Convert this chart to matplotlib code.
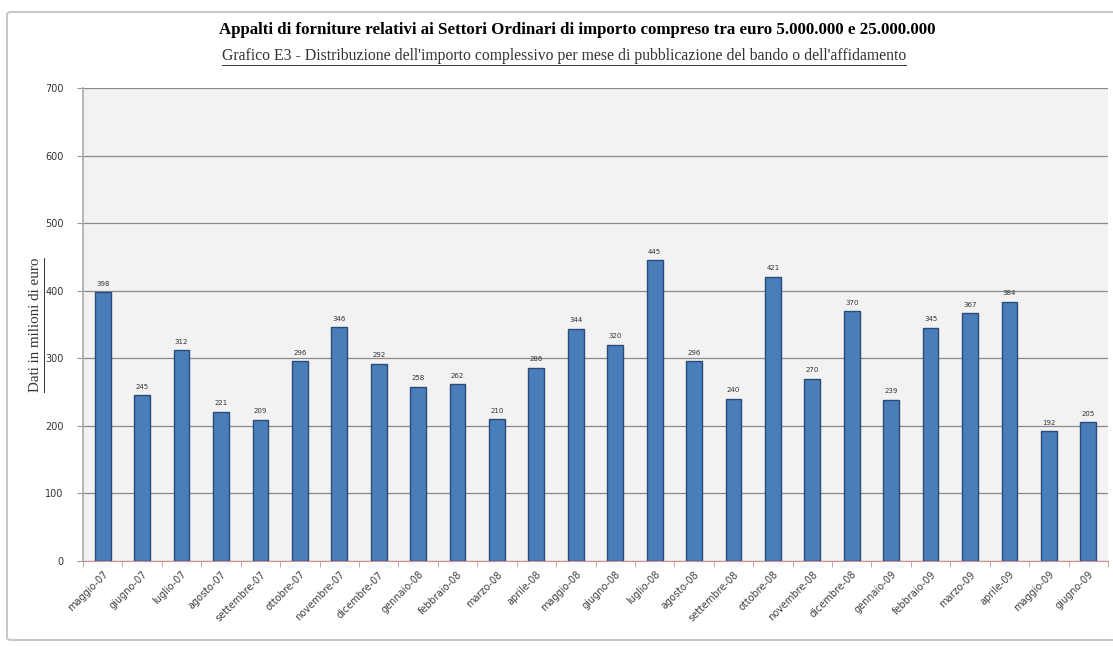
import numpy as np
import matplotlib
matplotlib.use("Agg")
import matplotlib.pyplot as plt
from matplotlib.patches import FancyBboxPatch
from matplotlib.lines import Line2D

mesi = ["maggio-07", "giugno-07", "luglio-07", "agosto-07", "settembre-07", "ottobre-07",
        "novembre-07", "dicembre-07", "gennaio-08", "febbraio-08", "marzo-08", "aprile-08",
        "maggio-08", "giugno-08", "luglio-08", "agosto-08", "settembre-08", "ottobre-08",
        "novembre-08", "dicembre-08", "gennaio-09", "febbraio-09", "marzo-09", "aprile-09",
        "maggio-09", "giugno-09"]
importi = [398, 245, 312, 221, 209, 296, 346, 292, 258, 262, 210, 286, 344, 320,
           445, 296, 240, 421, 270, 370, 239, 345, 367, 384, 192, 205]
y_ticks = [0, 100, 200, 300, 400, 500, 600, 700]

titolo = "Appalti di forniture relativi ai Settori Ordinari di importo compreso tra euro 5.000.000 e 25.000.000"
sottotitolo = "Grafico E3 - Distribuzione dell'importo complessivo per mese di pubblicazione del bando o dell'affidamento"
ylab = "Dati in milioni di euro"

W, H = 1113, 646
fig = plt.figure(figsize=(W / 100, H / 100), dpi=100)
fig.patch.set_facecolor("white")

# cornice esterna del grafico (il bordo destro esce dall'immagine)
frame = FancyBboxPatch((7 / W, 6 / H), 1115 / W, 628 / H, boxstyle="round,pad=0,rounding_size=0.004",
                       transform=fig.transFigure, facecolor="none", edgecolor="#c8c8c8", lw=1.5, zorder=5)
fig.patches.append(frame)

ax = fig.add_axes([83 / W, 1 - 561 / H, (1108 - 83) / W, (561 - 88) / H])
ax.set_facecolor("#f2f2f2")

x = np.arange(len(mesi))
bars = ax.bar(x, importi, width=0.4, color="#4a7ebb", edgecolor="#2a4a78", linewidth=1.0, zorder=3)

for xi, v in zip(x, importi):
    ax.text(xi, v + 8, str(v), ha="center", va="bottom", fontsize=5, color="#333333", zorder=4)

ax.set_xlim(-0.5, len(mesi) - 0.5)
ax.set_ylim(0, 700)
ax.set_yticks(y_ticks)
ax.set_yticklabels([str(t) for t in y_ticks], fontsize=7, color="#333333")
ax.grid(axis="y", color="#8a8a8a", linewidth=0.9, zorder=0)
ax.set_axisbelow(True)

ax.set_xticks(x)
ax.set_xticklabels(mesi, rotation=45, ha="right", rotation_mode="anchor", fontsize=7, color="#404040")
ax.tick_params(axis="x", length=0, pad=6)
ax.set_xticks(np.arange(len(mesi) + 1) - 0.5, minor=True)
ax.tick_params(axis="x", which="minor", length=4, color="#d09090")
ax.tick_params(axis="y", length=4, color="#999999", pad=10)

for s in ["top", "right"]:
    ax.spines[s].set_visible(False)
ax.spines["left"].set_color("#aaaaaa")
ax.spines["left"].set_linewidth(1.2)
ax.spines["bottom"].set_color("#d09090")
ax.spines["bottom"].set_linewidth(0.8)

serif = ["Liberation Serif", "DejaVu Serif"]
t1 = fig.text(577 / W, 1 - 30 / H, titolo, ha="center", va="center", fontsize=12.2,
              fontweight="bold", family=serif)
t2 = fig.text(564 / W, 1 - 56 / H, sottotitolo, ha="center", va="center", fontsize=11.3,
              family=serif, color="#333333")
t3 = fig.text(36 / W, 1 - 325 / H, ylab, ha="center", va="center", rotation=90, fontsize=10.8,
              family=serif, color="#333333")

# sottolineature
fig.canvas.draw()
r = fig.canvas.get_renderer()
bb = t2.get_window_extent(r)
fig.add_artist(Line2D([bb.x0 / W, bb.x1 / W], [(bb.y0 - 1) / H] * 2, transform=fig.transFigure,
                      color="#333333", lw=0.7))
bb = t3.get_window_extent(r)
fig.add_artist(Line2D([(bb.x1 + 1) / W] * 2, [bb.y0 / H, bb.y1 / H], transform=fig.transFigure,
                      color="#333333", lw=0.7))

fig.savefig("out.png", dpi=100)
